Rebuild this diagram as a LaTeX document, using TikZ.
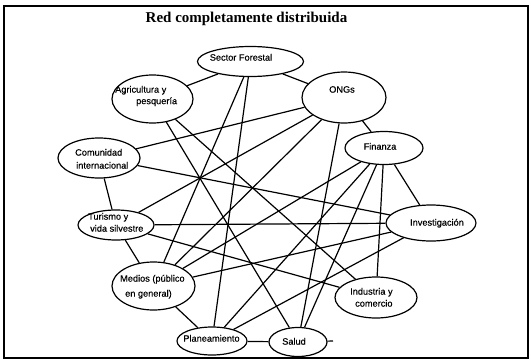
\documentclass[tikz,border=0pt]{standalone}
\usepackage{fontspec}
\setmainfont{Liberation Sans}
\newfontfamily\labelfont[FakeBold=0.35]{Liberation Sans}
\newfontfamily\titlefont{Liberation Serif}
\usetikzlibrary{shapes.geometric}
\begin{document}
\begin{tikzpicture}[x=1pt,y=-1pt,
  bub/.style={draw, ellipse, line width=1.2pt, inner sep=0pt},
  lbl/.style={inner sep=0pt, font=\labelfont\fontsize{9.2}{10}\selectfont},
  link/.style={line width=1.2pt},
  frame/.style={line width=1.4pt},
  heading/.style={inner sep=0pt, font=\titlefont\bfseries\fontsize{15}{17}\selectfont}]
\useasboundingbox (0,0) rectangle (531,362);
\fill[white] (0,0) rectangle (531,362);
\draw[frame] (4,6) rectangle (528,358);

% title
\node[heading, anchor=mid] (title) at (246.5,20) {Red completamente distribuida};

% actors
\node[bub, minimum width=106, minimum height=30] (sf)   at (250.5,61.5) {};
\node[bub, minimum width=81,  minimum height=48] (ag)   at (152.5,99)   {};
\node[bub, minimum width=84,  minimum height=51] (ongs) at (344,97.5)   {};
\node[bub, minimum width=78,  minimum height=33] (fin)  at (384,148)    {};
\node[bub, minimum width=82,  minimum height=40] (com)  at (99,158)     {};
\node[bub, minimum width=76,  minimum height=30] (tur)  at (116,225)    {};
\node[bub, minimum width=90,  minimum height=36] (inv)  at (431,223)    {};
\node[bub, minimum width=83,  minimum height=48] (med)  at (153.5,286)  {};
\node[bub, minimum width=82,  minimum height=41] (ind)  at (376,297.5)  {};
\node[bub, minimum width=70,  minimum height=28] (pla)  at (212,341)    {};
\node[bub, minimum width=58,  minimum height=29] (sal)  at (298,342)    {};
\coordinate (salx) at (333,341);

% labels
\node[lbl, anchor=mid] (sf-t) at (241,58) {Sector Forestal};
\node[lbl, anchor=mid west] (ag-t1) at (115,90) {Agricultura y};
\node[lbl, anchor=mid west] (ag-t2) at (136,101.5) {pesquería};
\node[lbl, anchor=mid] (ongs-t) at (342,90) {ONGs};
\node[lbl, anchor=mid] (fin-t) at (380,147) {Finanza};
\node[lbl, anchor=mid west] (com-t1) at (75,153) {Comunidad};
\node[lbl, anchor=mid west] (com-t2) at (76,166) {internacional};
\node[lbl, anchor=mid west] (tur-t1) at (88,217) {Turismo y};
\node[lbl, anchor=mid west] (tur-t2) at (90,229) {vida silvestre};
\node[lbl, anchor=mid] (inv-t) at (437,223) {Investigación};
\node[lbl, anchor=mid west] (med-t1) at (120,279) {Medios (público};
\node[lbl, anchor=mid west] (med-t2) at (125,294) {en general)};
\node[lbl, anchor=mid west] (ind-t1) at (350,292) {Industria y};
\node[lbl, anchor=mid west] (ind-t2) at (355,304) {comercio};
\node[lbl, anchor=mid] (pla-t) at (211.5,339) {Planeamiento};
\node[lbl, anchor=mid] (sal-t) at (294,342) {Salud};

% links
\draw[link] (sf) -- (ag);
\draw[link] (sf) -- (ongs);
\draw[link] (sf) -- (med);
\draw[link] (sf) -- (pla);
\draw[link] (ongs) -- (fin);
\draw[link] (ongs) -- (com);
\draw[link] (ongs) -- (tur);
\draw[link] (ongs) -- (med);
\draw[link] (ongs) -- (sal);
\draw[link] (ag) -- (sal);
\draw[link] (ag) -- (ind);
\draw[link] (com) -- (tur);
\draw[link] (com) -- (inv);
\draw[link] (tur) -- (med);
\draw[link] (tur) -- (inv);
\draw[link] (tur) -- (ind);
\draw[link] (fin) -- (inv);
\draw[link] (fin) -- (ind);
\draw[link] (fin) -- (sal);
\draw[link] (fin) -- (pla);
\draw[link] (fin) -- (med);
\draw[link] (med) -- (inv);
\draw[link] (med) -- (pla);
\draw[link] (pla) -- (inv);
\draw[link] (pla) -- (sal);
\draw[link] (sal) -- (salx);
\end{tikzpicture}
\end{document}
